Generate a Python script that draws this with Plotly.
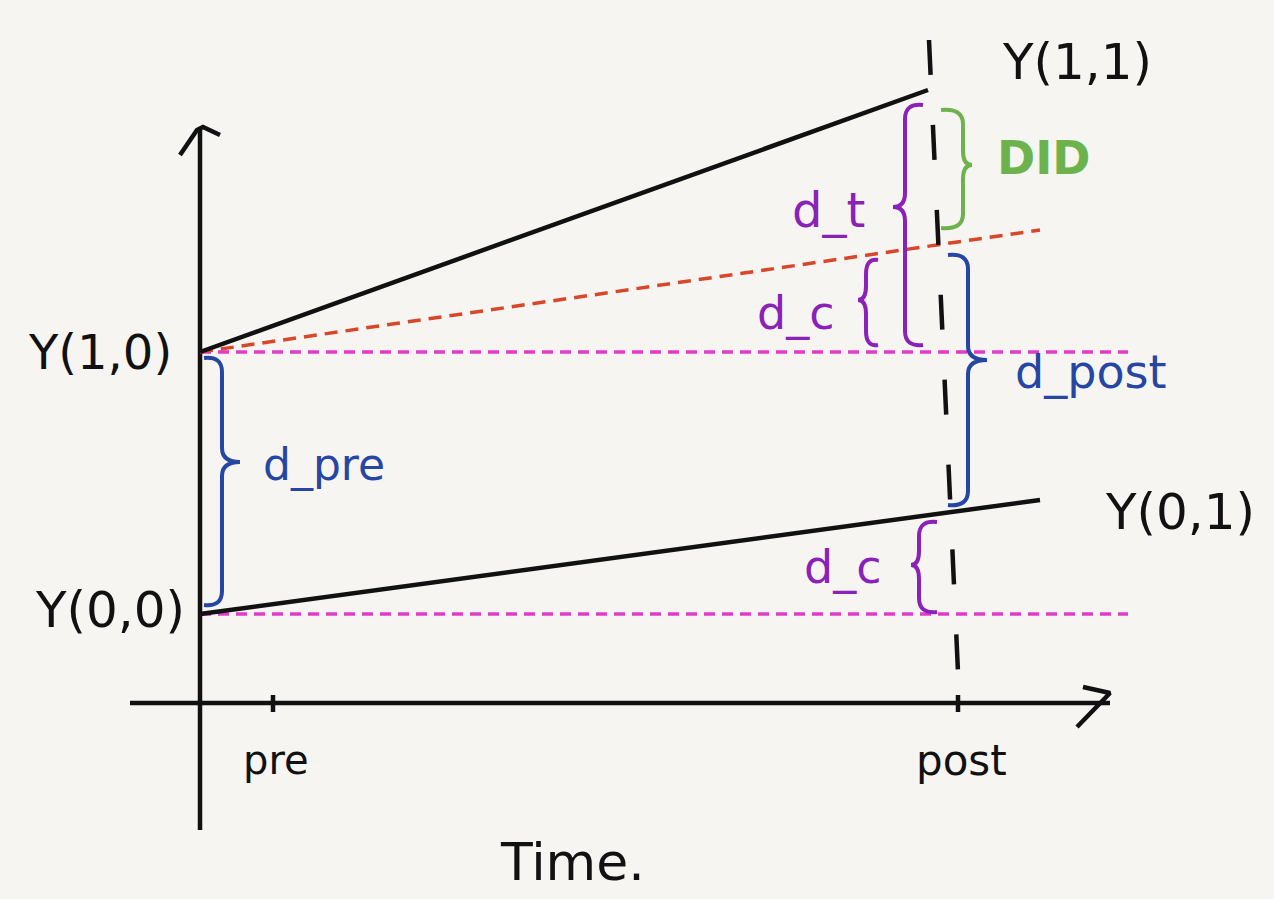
import plotly.graph_objects as go

# ---- data (diagram units: x = time offset, y = outcome level) ----
time_ticks = [73, 758]
time_labels = ["pre", "post"]
Y00 = 89            # control, pre
Y10 = 351           # treated, pre
treated_x = [0, 728]
treated_y = [351, 613]
control_x = [0, 840]
control_y = [89, 203]
counterfactual_x = [0, 840]
counterfactual_y = [351, 473]
baseline_x = [0, 928]
post_line_x = [729, 758]
post_line_y = [663, 31]

BG = "#f6f5f1"
BLACK = "#111111"
BLUE = "#2546a3"
PURPLE = "#8b22b8"
GREEN = "#6cb34e"
RED = "#d8472a"
MAGENTA = "#e03cc9"
FONT = "DejaVu Sans"

fig = go.Figure()

def line(x, y, color, width=4.5, dash=None):
    fig.add_trace(go.Scatter(x=x, y=y, mode="lines", hoverinfo="skip",
                             line=dict(color=color, width=width, dash=dash),
                             showlegend=False))

# axes (hand drawn style)
line([0, 0], [573, -127], BLACK)
line([-20, -3, 3, 20], [548, 573, 576, 568], BLACK)
line([-70, 910], [0, 0], BLACK)
line([883, 910, 877], [16, 10, -24], BLACK)
for t in time_ticks:
    line([t, t], [8, -9], BLACK)

# reference levels
line(baseline_x, [Y10, Y10], MAGENTA, 3.5, "11px,7px")
line(baseline_x, [Y00, Y00], MAGENTA, 3.5, "11px,7px")
# counterfactual trend
line(counterfactual_x, counterfactual_y, RED, 3.5, "13px,8px")
# treated & control
line(treated_x, treated_y, BLACK)
line(control_x, control_y, BLACK)
# post vertical dashed
line(post_line_x, post_line_y, BLACK, 4.5, "35px,50px")

# braces
def brace(xb, ytop, ybot, xt, yt, hook, color):
    c = 14
    p = (f"M {xb+hook},{ytop} Q {xb},{ytop+2} {xb},{ytop-c} "
         f"L {xb},{yt+c} Q {xb},{yt} {xt},{yt} "
         f"Q {xb},{yt} {xb},{yt-c} "
         f"L {xb},{ybot+c} Q {xb},{ybot-2} {xb+hook},{ybot}")
    fig.add_shape(type="path", path=p, xref="x", yref="y",
                  line=dict(color=color, width=4))

brace(22, 345, 98, 40, 241, -18, BLUE)      # d_pre
brace(768, 448, 198, 787, 343, -20, BLUE)   # d_post
brace(705, 598, 358, 693, 496, 18, PURPLE)  # d_t
brace(763, 593, 475, 772, 538, -22, GREEN)  # DID
brace(666, 443, 358, 658, 403, 12, PURPLE)  # d_c upper
brace(719, 181, 91, 711, 138, 18, PURPLE)   # d_c lower

def text(x, y, s, color, size=42, weight="normal"):
    fig.add_annotation(x=x, y=y, xref="x", yref="y", text=s, showarrow=False,
                       font=dict(family=FONT, size=size, color=color,
                                 weight=weight))

text(877, 641, "Y(1,1)", BLACK, 50)
text(-100, 351, "Y(1,0)", BLACK, 48)
text(-90, 93, "Y(0,0)", BLACK, 50)
text(980, 191, "Y(0,1)", BLACK, 50)
for t, lab, sz in zip(time_ticks, time_labels, [40, 42]):
    text(t + 3, -57, lab, BLACK, sz)
text(372, -159, "Time.", BLACK, 52)
text(124, 238, "d_pre", BLUE, 44)
text(891, 331, "d_post", BLUE, 46)
text(628, 493, "d_t", PURPLE, 48)
text(596, 390, "d_c", PURPLE, 46)
text(643, 136, "d_c", PURPLE, 46)
text(843, 545, "DID", GREEN, 46, "bold")

fig.update_layout(
    width=1274, height=899,
    margin=dict(l=0, r=0, t=0, b=0),
    paper_bgcolor=BG, plot_bgcolor=BG,
    xaxis=dict(range=[-200, 1074], visible=False, fixedrange=True),
    yaxis=dict(range=[-196, 703], visible=False, fixedrange=True),
    showlegend=False,
)
fig.write_html(
    "out.html",
    config={"displayModeBar": False},
    post_script="document.body.style.margin='0';document.body.style.background='#f6f5f1';",
)
